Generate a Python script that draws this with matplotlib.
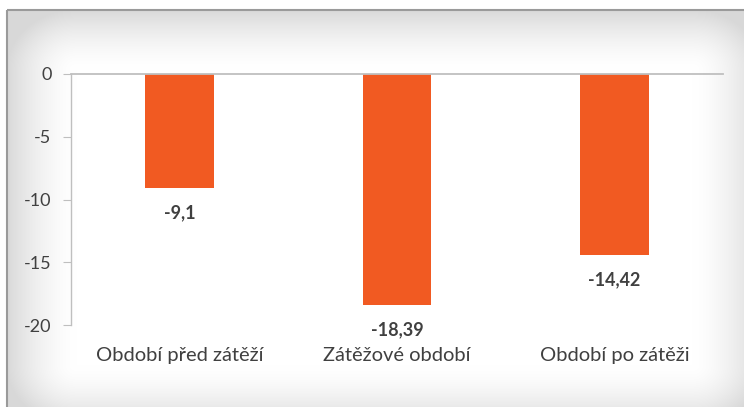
import numpy as np
import matplotlib
matplotlib.use("Agg")
from matplotlib import pyplot as plt
from matplotlib.patches import Rectangle

# data
categories = ["Období před zátěží", "Zátěžové období", "Období po zátěži"]
values = [-9.1, -18.39, -14.42]
value_labels = ["-9,1", "-18,39", "-14,42"]
yticks = [0, -5, -10, -15, -20]

plt.rcParams['font.family'] = ['Lato', 'DejaVu Sans']

W, H = 744, 407
fig = plt.figure(figsize=(W / 100, H / 100), dpi=100)
fig.patch.set_facecolor('white')

# background panel: inner-shadow style gradient towards the frame edges
bg = fig.add_axes([0, 0, 1, 1])
bg.axis('off')
x0, y0, x1, y1 = 7, 10, W + 18, H + 18
yy, xx = np.mgrid[y0:y1, x0:x1] + 0.5
dx = np.clip(1 - np.minimum(xx - x0, x1 - xx) / 70, 0, 1)
dy = np.clip(1 - np.minimum(yy - y0, y1 - yy) / 60, 0, 1)
d = np.clip(np.sqrt(dx ** 2 + dy ** 2), 0, 1)
shade = 1 - 0.15 * d ** 1.6
img = np.dstack([shade, shade, shade])
bg.imshow(img, extent=(x0, x1, y1, y0), aspect='auto', interpolation='bilinear')
bg.add_patch(Rectangle((x0, y0), x1 - x0, y1 - y0, fill=False, edgecolor='#9a9a9a', linewidth=1.5))
bg.set_xlim(0, W)
bg.set_ylim(H, 0)

ax = fig.add_axes([71 / W, 1 - 325 / H, 652 / W, 251 / H])
ax.patch.set_alpha(0)
x = np.arange(len(categories))
ax.bar(x, values, width=0.315, color='#F15A22', zorder=2)

for xi, v, lab in zip(x, values, value_labels):
    ax.annotate(lab, (xi, v), xytext=(0, -11.5), textcoords='offset points',
                ha='center', va='top', fontsize=13, fontweight='bold', color='#404040')

ax.set_xlim(-0.5, len(categories) - 0.5)
ax.set_ylim(-20, 0)
ax.set_yticks(yticks)
ax.set_yticklabels([str(t) for t in yticks])
ax.set_xticks([])
for s in ['right', 'bottom']:
    ax.spines[s].set_visible(False)
ax.spines['top'].set_color('#BFBFBF')
ax.spines['left'].set_color('#BFBFBF')
ax.spines['top'].set_linewidth(1.3)
ax.spines['left'].set_linewidth(1.0)
ax.tick_params(axis='y', length=6, color='#BFBFBF', labelsize=13, labelcolor='#404040', pad=8)

for xi, cat in zip(x, categories):
    ax.annotate(cat, (xi, -20), xytext=(0, -16), textcoords='offset points',
                ha='center', va='top', fontsize=14.5, color='#404040')

fig.savefig("out.png", dpi=100)
